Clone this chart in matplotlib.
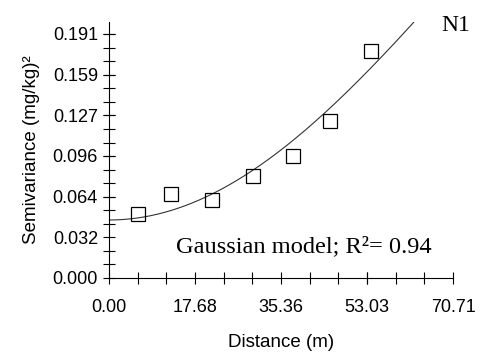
import matplotlib
matplotlib.use('Agg')
import matplotlib.pyplot as plt
import numpy as np
from matplotlib.ticker import AutoMinorLocator

# Experimental semivariogram points
distance = [6.0, 12.8, 21.1, 29.5, 37.9, 45.4, 53.8]
semivariance = [0.0501, 0.0658, 0.0611, 0.0801, 0.0957, 0.1231, 0.1780]

# Gaussian model parameters
nugget = 0.0454
partial_sill = 0.559
range_param = 110.0

x_ticks = [0.00, 17.68, 35.36, 53.03, 70.71]
x_tick_labels = ['0.00', '17.68', '35.36', '53.03', '70.71']
y_ticks = [0.000, 0.0318, 0.0637, 0.0955, 0.1273, 0.1592, 0.1910]
y_tick_labels = ['0.000', '0.032', '0.064', '0.096', '0.127', '0.159', '0.191']

sans = ['Liberation Sans', 'DejaVu Sans']
serif = ['Liberation Serif', 'DejaVu Serif']

fig = plt.figure(figsize=(4.8, 3.54), dpi=100)
ax = fig.add_axes([0.2271, 0.2147, 0.7167, 0.7232])

h = np.linspace(0, 70.71, 400)
gamma = nugget + partial_sill * (1 - np.exp(-(h / range_param) ** 2))
ax.plot(h, gamma, color='#333333', lw=0.8)
ax.plot(distance, semivariance, ls='none', marker='s', ms=10,
        mfc='none', mec='black', mew=0.9)

ax.set_xlim(0, 70.71)
ax.set_ylim(0, 0.2004)
for s in ['top', 'right']:
    ax.spines[s].set_visible(False)
for s in ['left', 'bottom']:
    ax.spines[s].set_linewidth(0.8)

ax.set_xticks(x_ticks)
ax.set_xticklabels(x_tick_labels, family=sans, fontsize=13)
ax.set_yticks(y_ticks)
ax.set_yticklabels(y_tick_labels, family=sans, fontsize=13)
ax.xaxis.set_minor_locator(AutoMinorLocator(3))
ax.yaxis.set_minor_locator(AutoMinorLocator(3))
ax.tick_params(which='both', direction='inout', length=8, width=0.8)
ax.tick_params(axis='x', which='major', pad=11)
ax.tick_params(axis='y', which='major', pad=4)

ax.set_xlabel('Distance (m)', family=sans, fontsize=13.5, labelpad=13)
ax.set_ylabel('Semivariance (mg/kg)²', family=sans, fontsize=13.5, labelpad=9)

fig.text(0.920, 0.9133, 'N1', family=serif, fontsize=17, ha='left', va='baseline')
fig.text(0.3667, 0.288, 'Gaussian model; R²= 0.94', family=serif, fontsize=17.6,
         ha='left', va='baseline')

fig.savefig('out.png', dpi=100)
